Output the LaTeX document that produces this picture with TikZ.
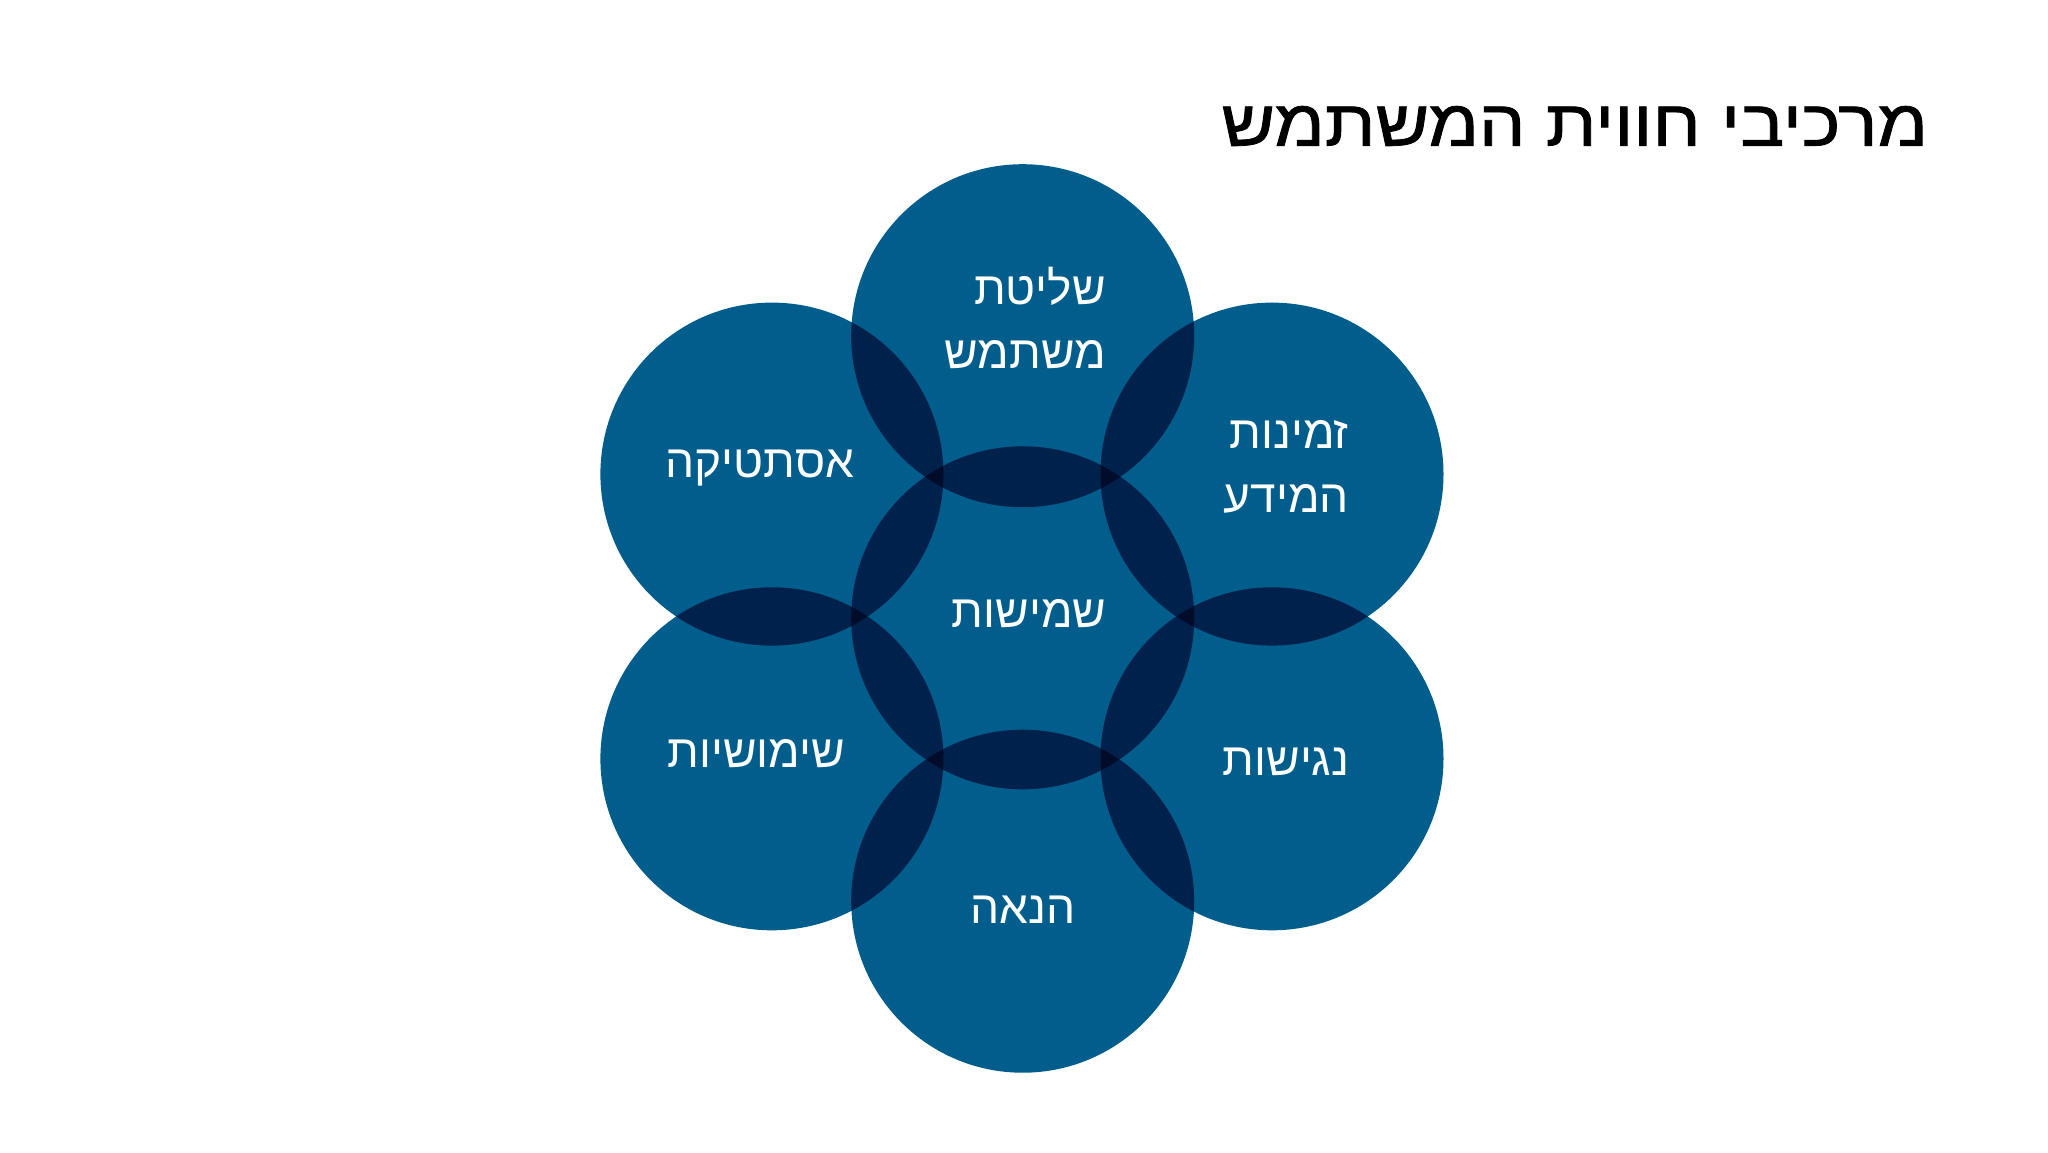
\documentclass[tikz,border=0pt]{standalone}
\usepackage{fontspec}
\TeXXeTstate=1
\newfontfamily\hebfont[Script=Hebrew]{Liberation Sans}
\newfontfamily\hebtitle[Script=Hebrew,FakeBold=1.2]{Liberation Sans}
\definecolor{circblue}{RGB}{0,93,140}
\tikzset{
  bubble/.style={circle, fill=circblue, draw=none, minimum size=343pt, inner sep=0pt},
  lbl/.style={text=white, font=\hebfont\fontsize{46}{64}\selectfont, align=right, inner sep=0pt},
  ttl/.style={text=black, font=\hebtitle\fontsize{65}{70}\selectfont, inner sep=0pt, anchor=east}
}
\begin{document}
\begin{tikzpicture}[x=1pt, y=-1pt]
\useasboundingbox (0,0) rectangle (2048,1152);
\fill[white] (0,0) rectangle (2048,1152);
\begin{scope}[blend group=multiply]
  \node[bubble] (ctop) at (1022.7,335.7) {};
  \node[bubble] (cmid) at (1022.7,617.8) {};
  \node[bubble] (cbot) at (1022.7,901.2) {};
  \node[bubble] (cul) at (771.9,474.1) {};
  \node[bubble] (cll) at (771.9,758.8) {};
  \node[bubble] (cur) at (1272,474.1) {};
  \node[bubble] (clr) at (1272,758.8) {};
\end{scope}
\node[ttl] (title) at (1928,126) {\scalebox{1.13}[1]{\beginR מרכיבי חווית המשתמש\endR}};
\node[lbl, anchor=east] (ltop) at (1106,318) {\beginR שליטת\endR\\\beginR משתמש\endR};
\node[lbl] (lul) at (760,468) {\beginR אסתטיקה\endR};
\node[lbl, anchor=east] (lur) at (1349,467) {\beginR זמינות\endR\\\beginR המידע\endR};
\node[lbl] (lmid) at (1029,614) {\beginR שמישות\endR};
\node[lbl] (lll) at (756,754) {\beginR שימושיות\endR};
\node[lbl] (llr) at (1286,762) {\beginR נגישות\endR};
\node[lbl] (lbot) at (1023,910) {\beginR הנאה\endR};
\end{tikzpicture}
\end{document}
